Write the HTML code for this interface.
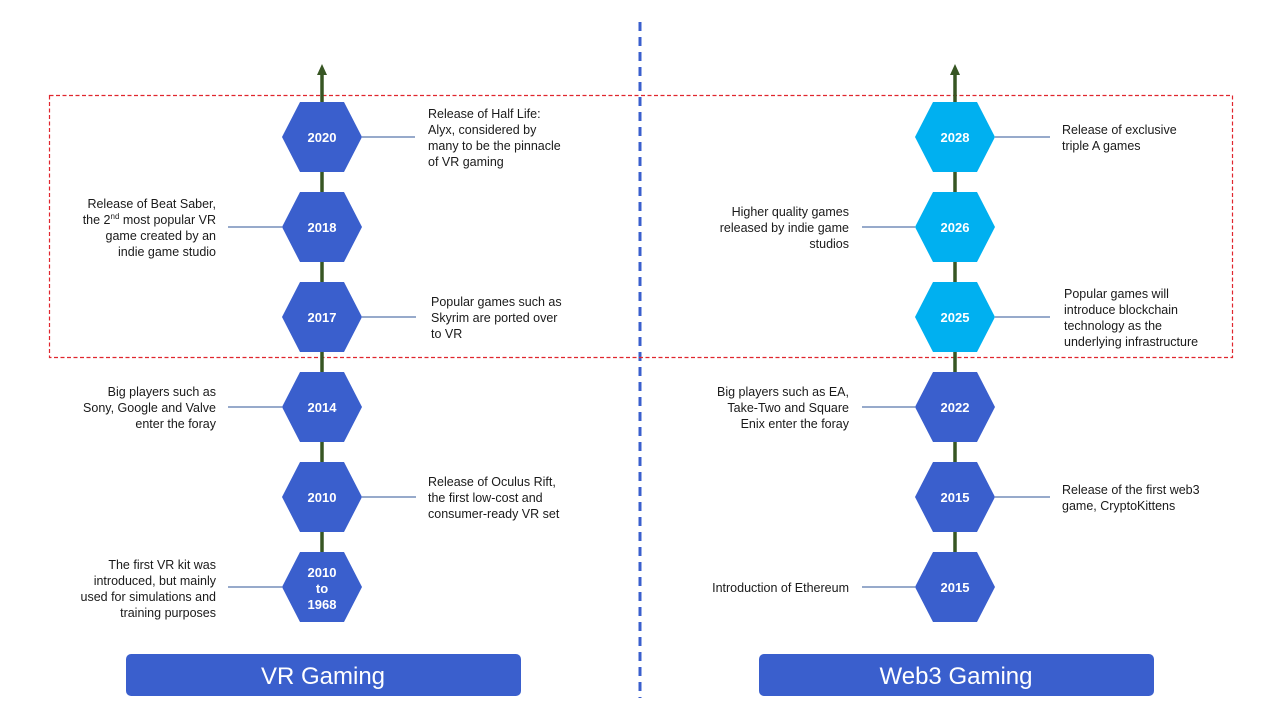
<!DOCTYPE html>
<html><head><meta charset="utf-8"><style>
body{margin:0;background:#fff}
svg text{font-family:"Liberation Sans",Arial,sans-serif}
.t{font-size:12.5px;fill:#1a1a1a}
.y{font-size:13px;font-weight:bold;fill:#fff}
</style></head><body>
<svg width="1280" height="720" viewBox="0 0 1280 720" xmlns="http://www.w3.org/2000/svg">
<defs>
<polygon id="hx" points="-22,-35 22,-35 40,0 22,35 -22,35 -40,0"/>
</defs>
<line x1="640" y1="22" x2="640" y2="698" stroke="#3A5FCD" stroke-width="3" stroke-dasharray="9,6"/>
<rect x="49.5" y="95.5" width="1183" height="262" fill="none" stroke="#e0262e" stroke-width="1.2" stroke-dasharray="4,2.5"/>
<g stroke="#375623" stroke-width="3.5">
<line x1="322" y1="74" x2="322" y2="595"/>
<line x1="955" y1="74" x2="955" y2="595"/>
</g>
<polygon points="322,64 317,75 327,75" fill="#375623"/>
<polygon points="955,64 950,75 960,75" fill="#375623"/>
<g stroke="#2F5597" stroke-width="1">
<line x1="362" y1="137" x2="415" y2="137"/>
<line x1="228" y1="227" x2="282" y2="227"/>
<line x1="362" y1="317" x2="416" y2="317"/>
<line x1="228" y1="407" x2="282" y2="407"/>
<line x1="362" y1="497" x2="416" y2="497"/>
<line x1="228" y1="587" x2="282" y2="587"/>
<line x1="995" y1="137" x2="1050" y2="137"/>
<line x1="862" y1="227" x2="915" y2="227"/>
<line x1="995" y1="317" x2="1050" y2="317"/>
<line x1="862" y1="407" x2="915" y2="407"/>
<line x1="995" y1="497" x2="1050" y2="497"/>
<line x1="862" y1="587" x2="915" y2="587"/>
</g>
<g fill="#3A5FCD">
<use href="#hx" x="322" y="137"/><use href="#hx" x="322" y="227"/><use href="#hx" x="322" y="317"/>
<use href="#hx" x="322" y="407"/><use href="#hx" x="322" y="497"/><use href="#hx" x="322" y="587"/>
<use href="#hx" x="955" y="407"/><use href="#hx" x="955" y="497"/><use href="#hx" x="955" y="587"/>
</g>
<g fill="#00B0F0">
<use href="#hx" x="955" y="137"/><use href="#hx" x="955" y="227"/><use href="#hx" x="955" y="317"/>
</g>
<g class="y" text-anchor="middle">
<text x="322" y="142" class="y">2020</text>
<text x="322" y="232" class="y">2018</text>
<text x="322" y="322" class="y">2017</text>
<text x="322" y="412" class="y">2014</text>
<text x="322" y="502" class="y">2010</text>
<text x="322" y="577" class="y">2010</text>
<text x="322" y="593" class="y">to</text>
<text x="322" y="609" class="y">1968</text>
<text x="955" y="142" class="y">2028</text>
<text x="955" y="232" class="y">2026</text>
<text x="955" y="322" class="y">2025</text>
<text x="955" y="412" class="y">2022</text>
<text x="955" y="502" class="y">2015</text>
<text x="955" y="592" class="y">2015</text>
</g>
<g class="t">
<text x="428" y="118">Release of Half Life:</text>
<text x="428" y="134">Alyx, considered by</text>
<text x="428" y="150">many to be the pinnacle</text>
<text x="428" y="166">of VR gaming</text>
<text x="431" y="306">Popular games such as</text>
<text x="431" y="322">Skyrim are ported over</text>
<text x="431" y="338">to VR</text>
<text x="428" y="486">Release of Oculus Rift,</text>
<text x="428" y="502">the first low-cost and</text>
<text x="428" y="518">consumer-ready  VR set</text>
<text x="1062" y="134">Release of exclusive</text>
<text x="1062" y="150">triple A games</text>
<text x="1064" y="298">Popular games will</text>
<text x="1064" y="314">introduce blockchain</text>
<text x="1064" y="330">technology as the</text>
<text x="1064" y="346">underlying infrastructure</text>
<text x="1062" y="494">Release of the first web3</text>
<text x="1062" y="510">game, CryptoKittens</text>
</g>
<g class="t" text-anchor="end">
<text x="216" y="208">Release of Beat Saber,</text>
<text x="216" y="224">the 2<tspan font-size="8" dy="-5">nd</tspan><tspan dy="5"> most popular VR</tspan></text>
<text x="216" y="240">game created by an</text>
<text x="216" y="256">indie game studio</text>
<text x="216" y="396">Big players such as</text>
<text x="216" y="412">Sony, Google and Valve</text>
<text x="216" y="428">enter the foray</text>
<text x="216" y="569">The first VR kit was</text>
<text x="216" y="585">introduced, but mainly</text>
<text x="216" y="601">used for simulations and</text>
<text x="216" y="617">training purposes</text>
<text x="849" y="216">Higher quality games</text>
<text x="849" y="232">released by indie game</text>
<text x="849" y="248">studios</text>
<text x="849" y="396">Big players such as EA,</text>
<text x="849" y="412">Take-Two  and Square</text>
<text x="849" y="428">Enix enter the foray</text>
<text x="849" y="592">Introduction of Ethereum</text>
</g>
<rect x="126" y="654" width="395" height="42" rx="5" fill="#3A5FCD"/>
<rect x="759" y="654" width="395" height="42" rx="5" fill="#3A5FCD"/>
<text x="323" y="684" text-anchor="middle" font-size="24" fill="#fff">VR Gaming</text>
<text x="956" y="684" text-anchor="middle" font-size="24" fill="#fff">Web3 Gaming</text>
</svg>
</body></html>
